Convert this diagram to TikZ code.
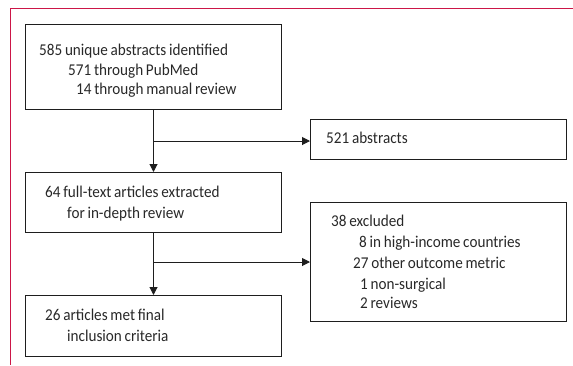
\documentclass[tikz,border=0pt]{standalone}
\usepackage{fontspec}
\setmainfont{Carlito}[FakeStretch=0.92,WordSpace=0.8]
\usetikzlibrary{arrows.meta}
\definecolor{framered}{RGB}{204,22,72}
\definecolor{txt}{RGB}{40,40,40}
\definecolor{boxline}{RGB}{30,30,30}
\begin{document}
\begin{tikzpicture}[x=1pt,y=-1pt,
  box/.style={draw=boxline,line width=1pt,inner sep=0pt,anchor=north west},
  lbl/.style={anchor=base west,inner sep=0pt,text=txt,font=\fontsize{16.5}{20}\selectfont},
  conn/.style={draw=boxline,line width=1pt},
  arr/.style={conn,-{Triangle[width=8pt,length=8pt]}}]
\useasboundingbox (0,0) rectangle (573,365);
\draw[framered,line width=1pt] (573,8) -- (10,8) -- (10,365);
% boxes
\node[box,minimum width=256pt,minimum height=85pt] (b1) at (25,24) {};
\node[box,minimum width=256pt,minimum height=60pt] (b2) at (25,172) {};
\node[box,minimum width=256pt,minimum height=61pt] (b3) at (25,295) {};
\node[box,minimum width=256pt,minimum height=40pt] (b4) at (310,119) {};
\node[box,minimum width=256pt,minimum height=119pt] (b5) at (310,202) {};
% texts
\node[lbl] (t1a) at (39,55) {585 unique abstracts identified};
\node[lbl] (t1b) at (68,75) {571 through PubMed};
\node[lbl] (t1c) at (76,94) {14 through manual review};
\node[lbl] (t2a) at (45,197) {64 full-text articles extracted};
\node[lbl] (t2b) at (67,218) {for in-depth review};
\node[lbl] (t3a) at (45,320) {26 articles met final};
\node[lbl] (t3b) at (67,341) {inclusion criteria};
\node[lbl] (t4) at (326,143) {521 abstracts};
\node[lbl] (t5a) at (331,226) {38 excluded};
\node[lbl] (t5b) at (359,247) {8 in high-income countries};
\node[lbl] (t5c) at (353,268) {27 other outcome metric};
\node[lbl] (t5d) at (360,289) {1 non-surgical};
\node[lbl] (t5e) at (360,308) {2 reviews};
% connectors
\coordinate (j1) at (b1.south |- 0,141);
\coordinate (j2) at (b2.south |- 0,262);
\draw[arr] (b1.south) -- (b2.north);
\draw[arr] (j1) -- (j1 -| b4.west);
\draw[arr] (b2.south) -- (b3.north);
\draw[arr] (j2) -- (j2 -| b5.west);
\end{tikzpicture}
\end{document}
